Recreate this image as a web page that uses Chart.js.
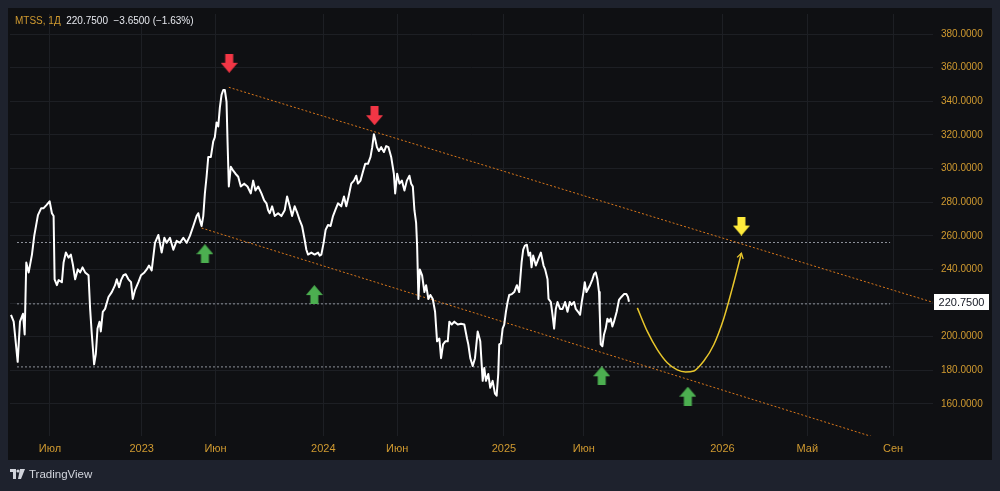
<!DOCTYPE html>
<html>
<head>
<meta charset="utf-8">
<script src="https://cdn.jsdelivr.net/npm/chart.js@4.4.1/dist/chart.umd.min.js"></script>
<style>
  html, body { margin: 0; padding: 0; background: #1e222d; }
  body { width: 1000px; height: 491px; position: relative; overflow: hidden; font-family: 'Liberation Sans', Arial, sans-serif; }
  #panel { position: absolute; left: 8px; top: 8px; width: 984px; height: 452px; background: #0f1013; }
  #wrap { position: absolute; left: 0; top: 0; width: 1000px; height: 491px; }
  #legend { position: absolute; left: 15px; top: 15px; font-size: 10px; line-height: 12px; color: #e6e8ee; white-space: pre; }
  #legend .sym { color: #d09a30; }
  #brand { position: absolute; left: 10px; top: 468px; font-size: 11.5px; color: #d1d4dc; display: flex; align-items: center; gap: 4px; }
</style>
</head>
<body>
<div id="panel"></div>
<div id="wrap"><canvas id="chart" width="1000" height="491"></canvas></div>
<div id="legend"><span class="sym">MTSS, 1Д</span>  220.7500  −3.6500 (−1.63%)</div>
<div id="brand">
  <svg width="15" height="10" viewBox="0 0 15 10"><rect x="0" y="0" width="6" height="3" fill="#d1d4dc"/><rect x="3" y="0" width="3" height="10" fill="#d1d4dc"/><circle cx="8" cy="2" r="1.6" fill="#d1d4dc"/><polygon points="10,0 15,0 11,10 8,10" fill="#d1d4dc"/></svg>
  <span>TradingView</span>
</div>
<script>
// MTSS 1Д - цена закрытия
const bars = [
  1, 3.7, 7.7, 10, 13, 14.7, 16.3, 18.7, 22, 24.3, 28, 31.3, 33.7, 36.3, 39.7, 42, 43.7, 44.7, 47, 48.7,
  52, 53.7, 56, 58.7, 61, 63, 65.3, 68, 70.3, 72.7, 75.3, 78.7, 80.3, 82, 84.3, 86, 87.7, 89.7, 91, 93,
  95.3, 98.7, 102, 105.3, 107, 109.3, 111.3, 113.7, 116, 118.7, 121.3, 123, 125.3, 128.7, 131.3, 134.7, 137, 139.3, 142,
  145.3, 148.7, 152, 154.7, 157, 160.3, 163.7, 167, 170.3, 173.7, 177, 180.3, 183.7, 187, 188.7, 190.3, 192, 193.7,
  195.3, 197, 198.7, 201.3, 203.7, 205.3, 207, 208.7, 210.3, 212, 213.7, 215.3, 217, 218, 219.3, 221.3, 223.7, 226,
  228.7, 231.3, 234.7, 238, 241.3, 243.7, 246, 248.7, 252, 254.7, 257, 258.7, 260.3, 262.7, 265.3, 268.7, 272, 275.3,
  277.7, 280.3, 282.7, 285.3, 288, 290.3, 292.7, 295.3, 297, 298.7, 302, 305.3, 308.7, 310.3,
  312, 314.3, 316.3, 318.7, 321.3, 323.7, 326, 328.7, 332, 334.7, 337, 339.3, 342, 344.7, 347, 348.7, 351.3, 353.7,
  356, 358.7, 361.3, 363, 364.7, 366, 367.7, 369.7, 372, 374.7, 377, 379.3, 382, 384.7, 386, 388, 390.3, 392.7, 395.3,
  397.7, 400.3, 402, 403.7, 405.3, 407, 408, 409.3, 410.7, 413, 415.3, 417, 419.3, 421.3, 423.7, 426, 428, 430.3, 432,
  434, 436.3, 438.7, 440.3, 442.7, 445.3, 448.7, 452, 455.3, 458, 459.3, 461.3, 463.7, 466, 468.7, 471.3,
  473.7, 475.3, 477, 479.3, 481.3, 483.7, 486, 487.7, 489.3, 490.3, 492, 493.7, 495.3, 497, 498.7, 500.3, 503, 505.3,
  508, 510.3, 512.7, 514.3, 516, 518, 519.7, 521.3, 522.7, 524.3, 527, 529.3, 532, 534.7, 536.3, 538.7, 539.7, 542,
  543.7, 545.3, 547, 548.7, 551.3, 553.7, 556.3, 558.7, 561, 562.7, 565.3, 567, 569.3, 571.3, 573, 574.7, 576, 577.7,
  579.3, 581.3, 583.7, 585.3, 587, 588.7, 590.3, 591, 592, 593.7, 595.3, 597, 598.7, 600.3, 602, 603.7, 605.3, 608,
  610.3, 612.7, 615.3, 617.7, 619.3, 620.3
];
const closes = [
  213.0, 208.9, 185.0, 208.9, 213.6, 201.3, 244.1, 238.2, 248.8, 259.9, 272.3, 276.4, 276.4, 278.1, 280.5, 273.4, 271.7, 234.1, 230.6, 233.6,
  232.4, 244.1, 250.0, 247.0, 248.8, 242.9, 234.1, 240.0, 238.2, 241.2, 238.2, 236.5, 216.5, 201.3, 183.5, 189.6, 204.8, 208.9, 203.1, 214.8,
  216.5, 223.6, 226.5, 230.6, 234.1, 229.4, 233.6, 236.5, 237.1, 234.1, 232.4, 222.4, 227.7, 232.4, 236.5, 238.2, 240.0, 242.3, 239.4,
  255.8, 260.5, 250.0, 258.8, 255.8, 258.8, 251.7, 257.0, 255.8, 258.8, 255.8, 259.9, 265.8, 271.7, 273.4, 269.3, 265.8, 271.7,
  285.2, 295.1, 306.9, 306.9, 316.2, 318.6, 327.4, 325.0, 336.2, 343.8, 346.7, 346.7, 339.7, 316.2, 289.3, 301.0, 298.7, 296.9,
  295.1, 289.3, 291.0, 289.3, 285.2, 292.8, 286.9, 289.3, 285.2, 281.1, 279.3, 275.2, 273.4, 277.5, 271.7, 273.4, 271.7, 275.2,
  283.4, 277.5, 271.7, 277.5, 273.4, 269.3, 265.8, 257.6, 251.7, 248.8, 250.0, 248.8, 250.0, 248.2,
  248.8, 255.8, 263.5, 266.4, 265.8, 271.7, 275.2, 279.3, 277.5, 283.4, 277.5, 283.4, 291.0, 292.8, 295.7, 291.0, 292.8, 298.1,
  302.8, 302.8, 306.9, 312.7, 320.4, 317.4, 312.7, 310.4, 312.7, 309.8, 313.3, 312.7, 306.9, 296.9, 285.2, 296.9, 291.0, 292.8, 286.9,
  292.8, 295.7, 291.0, 289.3, 275.2, 267.6, 254.1, 222.4, 240.0, 236.5, 226.5, 230.6, 222.4, 224.8, 222.4, 214.8, 197.2, 198.9, 187.2,
  195.4, 197.2, 197.2, 208.9, 207.2, 208.9, 207.2, 207.7, 207.2, 198.9, 195.4, 187.2, 182.5, 187.2, 203.1, 197.2,
  173.7, 181.4, 173.7, 177.8, 169.6, 173.7, 166.1, 164.9, 177.8, 195.4, 196.0, 204.8, 207.2, 214.8, 220.6, 224.8, 225.3, 226.5,
  230.6, 226.5, 244.1, 251.7, 254.1, 254.7, 248.2, 250.0, 241.2, 248.2, 242.3, 245.9, 250.0, 242.3, 240.0, 234.1, 222.4, 220.6,
  213.0, 204.8, 216.5, 220.6, 216.5, 216.5, 220.6, 214.8, 220.6, 218.9, 220.6, 216.5, 214.8, 213.0, 220.6, 226.5, 232.4, 226.5,
  228.3, 230.6, 234.1, 237.1, 238.2, 234.1, 226.5, 214.8, 195.4, 194.3, 201.3, 204.8, 210.7, 208.9, 210.7, 206.0, 208.9, 214.8,
  221.8, 223.6, 225.3, 225.3, 223.6, 220.75
];

// Ось времени
const xTickBars = [40, 132, 206, 314, 388, 495, 575, 714, 799, 885];
const xTickLabels = ['Июл', '2023', 'Июн', '2024', 'Июн', '2025', 'Июн', '2026', 'Май', 'Сен'];
const yTicks = [160, 180, 200, 220, 240, 260, 280, 300, 320, 340, 360, 380];

// Горизонтальные уровни
const levels = [256, 219.5, 182];
const levelBars = [7, 882];

// Канал
const upperTrendBars = [219.3, 925];
const upperTrendValues = [348.3, 220.4];
const lowerTrendBars = [192, 870];
const lowerTrendValues = [264.6, 139.4];

// Прогноз
const curveBars = [628.7, 638.7, 648.7, 658.7, 668.7, 677, 685.3, 695.3, 705.3, 715.3, 723.7, 733];
const curveValues = [217.1, 203.1, 192.3, 184.5, 180.2, 179.0, 179.6, 185.5, 195.2, 210.8, 228.4, 249.6];

// Стрелки
const redArrowBars = [219.7, 365.3];
const redArrowValues = [362.6, 331.4];
const greenArrowBars = [195.3, 305, 593, 679.3];
const greenArrowValues = [249.3, 225.0, 176.7, 164.6];
const yellowArrowBars = [733];
const yellowArrowValues = [265.8];

const pts = (xs, ys) => xs.map((x, i) => ({ x: x, y: ys[i] }));

function makeArrow(color, down) {
    const c = document.createElement('canvas');
    c.width = 17; c.height = 19;
    const g = c.getContext('2d');
    g.fillStyle = color;
    g.beginPath();
    if (down) {
        g.moveTo(4.5, 0); g.lineTo(12.5, 0); g.lineTo(12.5, 9); g.lineTo(17, 9);
        g.lineTo(8.5, 19); g.lineTo(0, 9); g.lineTo(4.5, 9);
    } else {
        g.moveTo(8.5, 0); g.lineTo(17, 10); g.lineTo(12.5, 10); g.lineTo(12.5, 19);
        g.lineTo(4.5, 19); g.lineTo(4.5, 10); g.lineTo(0, 10);
    }
    g.closePath();
    g.fill();
    return c;
}

const dotted = (color, data) => ({
    data: data, borderColor: color, borderWidth: 1, borderDash: [2, 2],
    pointRadius: 0, fill: false, tension: 0
});

const datasets = [
    { data: pts(redArrowBars, redArrowValues), showLine: false, pointStyle: makeArrow('#f23645', true), pointRadius: 9 },
    { data: pts(greenArrowBars, greenArrowValues), showLine: false, pointStyle: makeArrow('#4caf50', false), pointRadius: 9 },
    { data: pts(yellowArrowBars, yellowArrowValues), showLine: false, pointStyle: makeArrow('#ffeb3b', true), pointRadius: 9 },
    { data: pts(bars, closes), borderColor: '#ffffff', borderWidth: 2, pointRadius: 0, tension: 0, borderJoinStyle: 'round' },
    { data: pts(curveBars, curveValues), borderColor: '#e8c62c', borderWidth: 1.5, pointRadius: 0, cubicInterpolationMode: 'monotone' },
    dotted('#d9771b', pts(upperTrendBars, upperTrendValues)),
    dotted('#d9771b', pts(lowerTrendBars, lowerTrendValues))
];
levels.forEach(v => datasets.push(dotted('#8f939c', levelBars.map(b => ({ x: b, y: v })))));

// Метка последней цены + наконечник кривой
const extras = {
    id: 'extras',
    afterDatasetsDraw(chart) {
        const ctx = chart.ctx;
        const meta = chart.getDatasetMeta(4);
        const n = meta.data.length;
        const p1 = meta.data[n - 1], p0 = meta.data[n - 2];
        const a = Math.atan2(p1.y - p0.y, p1.x - p0.x);
        ctx.save();
        ctx.strokeStyle = '#e8c62c';
        ctx.lineWidth = 1.3;
        ctx.beginPath();
        ctx.moveTo(p1.x - 6 * Math.cos(a - 0.55), p1.y - 6 * Math.sin(a - 0.55));
        ctx.lineTo(p1.x, p1.y);
        ctx.lineTo(p1.x - 6 * Math.cos(a + 0.55), p1.y - 6 * Math.sin(a + 0.55));
        ctx.stroke();
        ctx.restore();
    },
    afterDraw(chart) {
        const ctx = chart.ctx;
        const y = Math.round(chart.scales.y.getPixelForValue(closes[closes.length - 1]));
        const x = chart.chartArea.right + 1;
        ctx.save();
        ctx.fillStyle = '#ffffff';
        ctx.fillRect(x, y - 8, 55, 16);
        ctx.fillStyle = '#131722';
        ctx.font = "11px 'Liberation Sans', Arial, sans-serif";
        ctx.textAlign = 'center';
        ctx.textBaseline = 'middle';
        ctx.fillText(closes[closes.length - 1].toFixed(4), x + 27.5, y + 0.5);
        ctx.restore();
    }
};

new Chart(document.getElementById('chart'), {
    type: 'line',
    data: { datasets: datasets },
    options: {
        responsive: false,
        animation: false,
        events: [],
        layout: { padding: { left: 8, top: 8, right: 8, bottom: 31 } },
        plugins: { legend: { display: false }, tooltip: { enabled: false } },
        scales: {
            x: {
                type: 'linear', min: 0, max: 925,
                afterBuildTicks: s => { s.ticks = xTickBars.map(v => ({ value: v })); },
                afterFit: s => { s.height = 24; },
                grid: { color: '#1d1f24', drawTicks: false },
                border: { display: false },
                ticks: {
                    autoSkip: false, maxRotation: 0, padding: 6, color: '#d09a30',
                    font: { family: "'Liberation Sans', Arial, sans-serif", size: 11 },
                    callback: (v, i) => xTickLabels[i]
                }
            },
            y: {
                position: 'right', min: 140.9, max: 391.9,
                afterBuildTicks: s => { s.ticks = yTicks.map(v => ({ value: v })); },
                afterFit: s => { s.width = 59; },
                grid: { color: '#1d1f24', drawTicks: false },
                border: { display: false },
                ticks: {
                    padding: 8, color: '#d09a30',
                    font: { family: "'Liberation Sans', Arial, sans-serif", size: 10 },
                    callback: v => Number(v).toFixed(4)
                }
            }
        }
    },
    plugins: [extras]
});
</script>
</body>
</html>
